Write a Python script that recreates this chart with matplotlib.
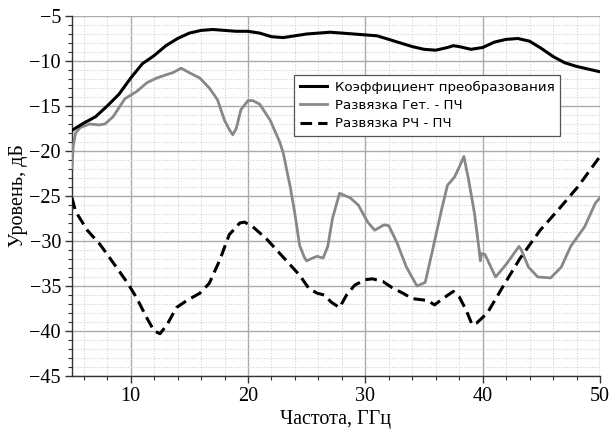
import matplotlib
matplotlib.use("Agg")
import matplotlib.pyplot as plt
from matplotlib.ticker import MultipleLocator

# Коэффициент преобразования
freq_gain = [5.0, 6.0, 7.0, 8.0, 9.0, 10.0, 11.0, 12.0, 13.0, 14.0, 15.0, 16.0,
             17.0, 18.0, 19.0, 20.0, 21.0, 22.0, 23.0, 24.0, 25.0, 26.0, 27.0,
             28.0, 29.0, 30.0, 31.0, 32.0, 33.0, 34.0, 35.0, 36.0, 37.0, 37.5,
             38.0, 39.0, 40.0, 41.0, 42.0, 43.0, 44.0, 45.0, 46.0, 47.0, 48.0,
             49.0, 50.0]
gain = [-17.7, -16.9, -16.2, -15.0, -13.7, -11.9, -10.3, -9.4, -8.3, -7.5, -6.9,
        -6.6, -6.5, -6.6, -6.7, -6.7, -6.9, -7.3, -7.4, -7.2, -7.0, -6.9, -6.8,
        -6.9, -7.0, -7.1, -7.2, -7.6, -8.0, -8.4, -8.7, -8.8, -8.5, -8.3, -8.4,
        -8.7, -8.5, -7.9, -7.6, -7.5, -7.8, -8.6, -9.5, -10.2, -10.6, -10.9, -11.2]

# Развязка Гет. - ПЧ
freq_lo = [5.0, 5.1, 5.3, 5.7, 6.5, 7.3, 7.8, 8.5, 9.5, 10.5, 11.4, 12.2, 13.1,
           13.6, 14.3, 15.0, 15.9, 16.7, 17.4, 18.0, 18.4, 18.7, 19.0, 19.4,
           20.0, 20.4, 21.0, 21.9, 22.7, 23.0, 23.6, 24.0, 24.4, 24.8, 25.0,
           25.5, 25.9, 26.4, 26.8, 27.2, 27.8, 28.7, 29.4, 30.2, 30.8, 31.6,
           32.0, 32.7, 33.5, 34.4, 35.1, 35.7, 36.5, 37.0, 37.6, 38.0, 38.4,
           38.8, 39.3, 39.7, 39.8, 39.9, 40.2, 41.1, 42.0, 43.1, 43.3, 43.9,
           44.7, 45.8, 46.7, 47.5, 48.7, 49.6, 50.0]
iso_lo = [-21.9, -19.5, -18.0, -17.4, -17.0, -17.1, -17.0, -16.2, -14.2, -13.4,
          -12.4, -11.9, -11.5, -11.3, -10.8, -11.3, -11.9, -13.0, -14.3, -16.6,
          -17.6, -18.2, -17.5, -15.4, -14.4, -14.4, -14.8, -16.6, -19.0, -20.2,
          -24.0, -27.0, -30.5, -31.8, -32.2, -31.9, -31.7, -31.9, -30.6, -27.5,
          -24.7, -25.2, -26.0, -27.9, -28.8, -28.2, -28.3, -30.2, -32.9, -35.0,
          -34.6, -31.2, -26.5, -23.8, -22.9, -21.8, -20.6, -23.2, -26.9, -31.0,
          -32.2, -31.4, -31.5, -34.0, -32.6, -30.6, -31.0, -32.9, -34.0, -34.1,
          -32.9, -30.6, -28.4, -25.8, -25.2]

# Развязка РЧ - ПЧ
freq_rf = [5.0, 5.3, 6.3, 7.4, 8.5, 9.7, 10.5, 11.4, 12.0, 12.5, 13.1, 13.9,
           14.8, 15.9, 16.7, 17.6, 18.4, 19.3, 19.7, 20.4, 21.6, 23.0, 24.4,
           25.2, 25.9, 26.5, 27.1, 27.8, 28.4, 29.1, 30.0, 30.6, 31.5, 32.3,
           33.2, 34.0, 34.6, 35.3, 35.9, 36.6, 37.5, 38.0, 38.6, 39.1, 39.5,
           40.4, 41.8, 43.2, 44.9, 46.4, 48.1, 50.0]
iso_rf = [-25.2, -26.7, -28.8, -30.4, -32.4, -34.6, -36.3, -38.6, -40.0, -40.3,
          -39.3, -37.4, -36.6, -35.8, -34.7, -32.1, -29.3, -28.0, -27.9, -28.4,
          -29.8, -31.8, -33.8, -35.3, -35.8, -36.0, -36.8, -37.4, -36.0, -34.9,
          -34.3, -34.2, -34.5, -35.2, -35.8, -36.4, -36.5, -36.6, -37.1, -36.4,
          -35.6, -36.2, -37.7, -39.3, -39.1, -38.0, -34.9, -31.9, -28.8, -26.6,
          -24.0, -20.6]

series_labels = ["Коэффициент преобразования", "Развязка Гет. - ПЧ", "Развязка РЧ - ПЧ"]
x_ticks = [10, 20, 30, 40, 50]
y_ticks = [-45, -40, -35, -30, -25, -20, -15, -10, -5]

serif = ["Liberation Serif", "DejaVu Serif"]
label_size = 14.5

fig = plt.figure(figsize=(6.16, 4.30), dpi=100)
ax = fig.add_axes([72 / 616, 1 - 376 / 430, (600 - 72) / 616, (376 - 16) / 430])

ax.plot(freq_gain, gain, color="black", lw=2.2, solid_joinstyle="round",
        label=series_labels[0], zorder=5)
ax.plot(freq_lo, iso_lo, color="#888888", lw=2.0, solid_joinstyle="round",
        label=series_labels[1], zorder=4)
ax.plot(freq_rf, iso_rf, color="black", lw=2.2, dashes=(3.8, 2.0),
        label=series_labels[2], zorder=5)

ax.set_xlim(5, 50)
ax.set_ylim(-45, -5)
ax.xaxis.set_minor_locator(MultipleLocator(2))
ax.yaxis.set_minor_locator(MultipleLocator(1))

ax.grid(which="major", color="#ababab", lw=1.0, ls="-", zorder=1)
ax.grid(which="minor", color="#d2d2d2", lw=0.8, ls=(0, (1, 1.5)), zorder=0)
ax.set_axisbelow(True)

for side in ("top", "right"):
    ax.spines[side].set_visible(False)
for side in ("left", "bottom"):
    ax.spines[side].set_color("#333333")
    ax.spines[side].set_linewidth(1.0)

ax.tick_params(which="major", direction="out", length=5, width=1.0,
               colors="#333333", labelcolor="black", pad=3)
ax.tick_params(which="minor", direction="out", length=3, width=0.8,
               colors="#333333")

ax.set_xticks(x_ticks)
ax.set_xticklabels([str(v) for v in x_ticks], fontfamily=serif, fontsize=label_size)
ax.set_yticks(y_ticks)
ax.set_yticklabels([f"\u2212{abs(v)}" for v in y_ticks], fontfamily=serif,
                   fontsize=label_size)

ax.set_xlabel("Частота, ГГц", fontfamily=serif, fontsize=label_size, labelpad=3)
ax.set_ylabel("Уровень, дБ", fontfamily=serif, fontsize=label_size, labelpad=1)

leg = ax.legend(loc="upper left", bbox_to_anchor=((294 - 72) / 528, (376 - 75) / 360),
                frameon=True, fancybox=False, framealpha=1.0, edgecolor="#555555",
                prop={"family": "DejaVu Sans", "size": 9.6}, handlelength=2.0,
                handletextpad=0.6, borderpad=0.45, labelspacing=0.38,
                borderaxespad=0)
leg.get_frame().set_linewidth(0.9)
leg.set_zorder(10)

fig.savefig("out.png", dpi=100)
